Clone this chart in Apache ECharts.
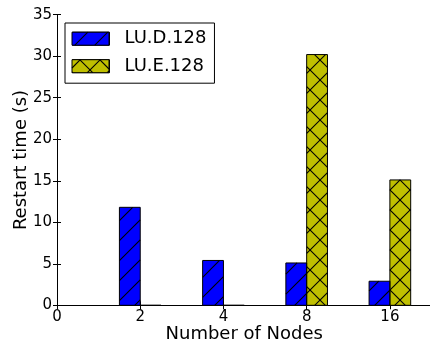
<!DOCTYPE html>
<html>
<head>
<meta charset="utf-8">
<script src="https://cdn.jsdelivr.net/npm/echarts@6/dist/echarts.min.js"></script>
<style>html,body{margin:0;padding:0;background:#fff}#c{width:430px;height:346px}</style>
</head>
<body>
<div id="c"></div>
<script>
// ---- data ----
const tickLabels = ['0', '2', '4', '8', '16'];
const nodes = ['2', '4', '8', '16'];           // categories, placed at ticks 1..4
const nodePositions = [1, 2, 3, 4];
const luD128 = [11.8, 5.4, 5.1, 2.9];
const luE128 = [0, 0, 30.2, 15.1];
const seriesNames = ['LU.D.128', 'LU.E.128'];
const seriesColors = ['#0000ff', '#bfbf00'];

// ---- hatch line segments clipped to a pixel rectangle ----
const HATCH = 20;
function hatchSegments(x0, y0, x1, y1, cross) {
  const segs = [];
  const s = HATCH;
  for (let k = Math.floor((x0 + y0) / s); k <= Math.ceil((x1 + y1) / s); k++) {
    const c = k * s;
    const lo = Math.max(x0, c - y1), hi = Math.min(x1, c - y0);
    if (hi - lo > 0.3) segs.push([lo, c - lo, hi, c - hi]);
  }
  if (cross) {
    for (let k = Math.floor((x0 - y1) / s); k <= Math.ceil((x1 - y0) / s); k++) {
      const c = k * s;
      const lo = Math.max(x0, c + y0), hi = Math.min(x1, c + y1);
      if (hi - lo > 0.3) segs.push([lo, lo - c, hi, hi - c]);
    }
  }
  return segs;
}
function hatchedRect(x0, y0, x1, y1, fill, cross, z) {
  const children = [{
    type: 'rect', z2: 0, z: z,
    shape: { x: x0, y: y0, width: x1 - x0, height: y1 - y0 },
    style: { fill: fill, stroke: null }
  }];
  hatchSegments(x0, y0, x1, y1, cross).forEach(sg => children.push({
    type: 'line', z2: 1, z: z, shape: { x1: sg[0], y1: sg[1], x2: sg[2], y2: sg[3] },
    style: { stroke: '#000', lineWidth: 1.1 }
  }));
  children.push({
    type: 'rect', z2: 2, z: z,
    shape: { x: x0, y: y0, width: x1 - x0, height: y1 - y0 },
    style: { fill: null, stroke: '#000', lineWidth: 1 }
  });
  return children;
}

const font = 'DejaVu Sans';
const chart = echarts.init(document.getElementById('c'), null, { renderer: 'canvas' });

function barSeries(name, values, offset, color, cross) {
  return {
    name: name, type: 'custom', xAxisIndex: 0, yAxisIndex: 0,
    itemStyle: { color: color, borderColor: '#000', borderWidth: 1 },
    data: values.map((v, i) => [nodePositions[i], v]),
    renderItem: function (params, api) {
      const x = api.value(0), v = api.value(1);
      const p0 = api.coord([x + offset, v]);
      const p1 = api.coord([x + offset + 0.25, 0]);
      return { type: 'group', children: hatchedRect(p0[0], p0[1], p1[0], p1[1], color, cross) };
    }
  };
}

const axisLine = { show: true, lineStyle: { color: '#000', width: 1 } };
const tickIn = { show: true, inside: true, length: 4, lineStyle: { color: '#000' } };

// legend layout (hatch drawn over the legend icons)
const LEG = { left: 65, top: 23, padTop: 6.7, padLeft: 7, itemH: 18, gap: 9.5, iconW: 37, iconH: 13 };
const legendIcons = [0, 1].map(i => {
  const cy = LEG.top + LEG.padTop + LEG.itemH / 2 + i * (LEG.itemH + LEG.gap);
  const x0 = LEG.left + LEG.padLeft;
  return hatchedRect(x0, cy - LEG.iconH / 2, x0 + LEG.iconW, cy + LEG.iconH / 2, seriesColors[i], i === 1, 100);
});

chart.setOption({
  animation: false, backgroundColor: '#fff',
  grid: { left: 57, right: -1.5, top: 14.7, bottom: 40.7, containLabel: false, outerBoundsMode: 'none' },
  legend: {
    orient: 'vertical', left: LEG.left, top: LEG.top,
    padding: [LEG.padTop, 8, 8, LEG.padLeft], itemGap: LEG.gap,
    itemWidth: LEG.iconW, itemHeight: LEG.iconH,
    borderColor: '#000', borderWidth: 1, backgroundColor: '#fff', icon: 'rect',
    textStyle: { fontFamily: font, fontSize: 18, color: '#000', lineHeight: LEG.itemH, padding: [0, 0, 0, 10] },
    data: [
      { name: seriesNames[0], itemStyle: { color: seriesColors[0], borderColor: '#000', borderWidth: 1 } },
      { name: seriesNames[1], itemStyle: { color: seriesColors[1], borderColor: '#000', borderWidth: 1 } }
    ]
  },
  graphic: { elements: legendIcons.map(ch => ({ type: 'group', z: 100, children: ch })) },
  xAxis: [
    { type: 'value', position: 'bottom', min: 0, max: 4.5, interval: 1,
      axisLine: axisLine, axisTick: tickIn, splitLine: { show: false },
      axisLabel: { margin: 4, fontFamily: font, fontSize: 15, color: '#000', showMaxLabel: false,
        formatter: v => (tickLabels[v] !== undefined ? tickLabels[v] : '') },
      name: 'Number of Nodes', nameLocation: 'middle', nameGap: 20, nameMoveOverlap: false,
      nameTextStyle: { fontFamily: font, fontSize: 18, color: '#000' } },
    { type: 'value', position: 'top', min: 0, max: 4.5, interval: 1,
      axisLine: axisLine, axisTick: tickIn, splitLine: { show: false }, axisLabel: { show: false } }
  ],
  yAxis: [
    { type: 'value', position: 'left', min: 0, max: 35, interval: 5,
      axisLine: axisLine, axisTick: tickIn, splitLine: { show: false },
      axisLabel: { margin: 5, fontFamily: font, fontSize: 15, color: '#000' },
      name: 'Restart time (s)', nameLocation: 'middle', nameGap: 27, nameMoveOverlap: false,
      nameTextStyle: { fontFamily: font, fontSize: 18, color: '#000' } },
    { type: 'value', position: 'right', min: 0, max: 35, interval: 5,
      axisLine: axisLine, axisTick: tickIn, splitLine: { show: false }, axisLabel: { show: false } }
  ],
  series: [
    barSeries(seriesNames[0], luD128, -0.25, seriesColors[0], false),
    barSeries(seriesNames[1], luE128, 0, seriesColors[1], true)
  ]
});
</script>
</body>
</html>
